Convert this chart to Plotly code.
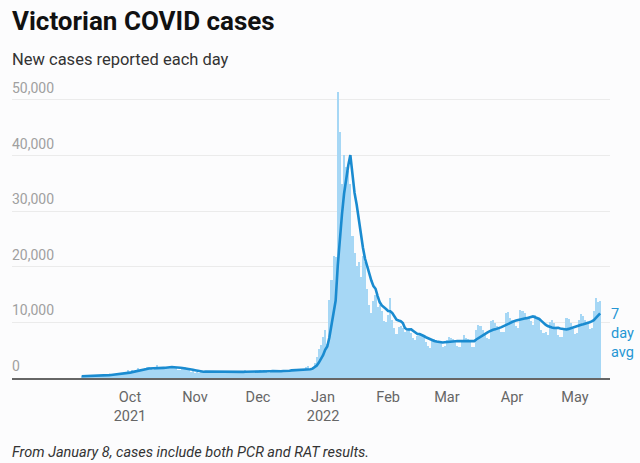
import pandas as pd
import plotly.graph_objects as go

# ---- data: daily new cases, 8 Sep 2021 - 13 May 2022 ----
start_date = "2021-09-08"
sep_2021 = [324, 334, 450, 392, 473, 473, 445, 423, 514, 510, 535, 507, 567, 603, 628,
            766, 733, 847, 779, 705, 867, 950, 1438]
oct_2021 = [1143, 1488, 1220, 1377, 1763, 1420, 1638, 1838, 1965, 1890, 1612, 1466, 1571,
            2297, 1993, 1838, 1903, 1749, 1841, 2232, 2189, 1750, 1935, 1461, 1510, 1534,
            1923, 1656, 1355, 1069, 1221]
nov_2021 = [989, 1069, 941, 1247, 1343, 1313, 1145, 1126, 1003, 1273, 1290, 1127, 1221,
            1052, 860, 1007, 1179, 1188, 1273, 1029, 1065, 1018, 827, 1254, 1362, 1252,
            1061, 1069, 1185, 935]
dec_2021 = [1179, 1419, 1188, 1417, 1073, 980, 1312, 1232, 1206, 1193, 1365, 1206, 1290,
            1189, 1405, 1510, 1622, 1504, 1290, 1240, 1302, 1245, 1503, 2005, 2095, 1608,
            1999, 2738, 3767, 5137, 5919]
jan_2022 = [7442, 8577, 6104, 14020, 17636, 21997, 21728, 51356, 44155, 34808, 40127,
            37994, 37169, 34836, 25526, 22429, 20180, 20769, 18167, 21966, 20940, 16016,
            13091, 11695, 13755, 14836, 12755, 13087, 12000, 10275, 10053]
feb_2022 = [11300, 14400, 10500, 8900, 7900, 9200, 9300, 9000, 8200, 8500, 9000, 8000,
            7200, 6800, 7600, 8100, 7700, 7400, 6500, 5800, 5400, 6800, 7000, 6900, 6700,
            6300, 5500, 5700]
mar_2022 = [6900, 7400, 7200, 7000, 6600, 5800, 5600, 6600, 7700, 7200, 7000, 6700, 5600,
            5600, 8700, 9500, 9300, 8600, 8000, 7200, 7000, 10200, 10400, 9800, 9300, 9000,
            8300, 8200, 11600, 11900, 10800]
apr_2022 = [10500, 10200, 9300, 9000, 12200, 12000, 11600, 11000, 10800, 10200, 9600,
            11300, 11000, 10400, 8600, 8000, 8200, 7800, 10000, 10500, 9900, 8900, 7800,
            7400, 7300, 9000, 10800, 10600, 9900, 8800]
may_2022 = [7900, 8000, 10400, 11500, 11200, 10500, 9800, 8800, 9000, 12000, 14300, 13600,
            13900]

month_ticks = ["2021-10-01", "2021-11-01", "2021-12-01", "2022-01-01", "2022-02-01",
               "2022-03-01", "2022-04-01", "2022-05-01"]
month_labels = ["Oct<br>2021", "Nov", "Dec", "Jan<br>2022", "Feb", "Mar", "Apr", "May"]
y_ticks = [0, 10000, 20000, 30000, 40000, 50000]

daily = (sep_2021 + oct_2021 + nov_2021 + dec_2021 + jan_2022 + feb_2022 + mar_2022
         + apr_2022 + may_2022)
dates = pd.date_range(start_date, periods=len(daily), freq="D")
avg7 = pd.Series(daily).rolling(7, min_periods=1).mean()

BAR = "#a6d7f5"
LINE = "#1a8bd0"
FONT = "Roboto"

# plot area: x 12..610 px, y 0 at 378 px, 50,000 at ~99.5 px
Y_MAX = 55000
PLOT_H = (378 - 99.5) * Y_MAX / 50000
TOP = 378 - PLOT_H


def py(px):
    """pixel row -> paper y"""
    return (378 - px) / PLOT_H


fig = go.Figure()
fig.add_trace(go.Bar(x=dates, y=daily, marker=dict(color=BAR, line=dict(width=0)),
                     hoverinfo="skip"))
fig.add_trace(go.Scatter(x=dates, y=avg7, mode="lines",
                         line=dict(color=LINE, width=2.6), hoverinfo="skip"))

fig.update_layout(
    width=640, height=463,
    margin=dict(l=12, r=30, t=TOP, b=463 - 378),
    paper_bgcolor="#fcfcfd", plot_bgcolor="#fcfcfd",
    showlegend=False, bargap=0,
    font=dict(family=FONT, color="#333"),
    title=dict(text="<b>Victorian COVID cases</b>", x=12 / 640, xanchor="left",
               y=1 - 20.5 / 463, yanchor="middle",
               font=dict(family=FONT, size=26, color="#111")),
)
fig.update_xaxes(
    range=["2021-08-05 19:00", "2022-05-17 17:00"],
    tickvals=month_ticks, ticktext=month_labels,
    tickfont=dict(family=FONT, size=14.5, color="#666"),
    ticklabelstandoff=5,
    showgrid=False, showline=True, linecolor="#666", linewidth=2,
    ticks="", zeroline=False,
)
fig.update_yaxes(
    range=[0, Y_MAX], tickvals=y_ticks,
    tickformat=",d",
    ticklabelposition="inside top",
    ticklabelstandoff=-3, ticklabelshift=-2,
    tickfont=dict(family=FONT, size=14, color="#a0a0a0"),
    showgrid=True, gridcolor="#ebebeb", gridwidth=1,
    zeroline=False, showline=False, ticks="",
)

fig.add_annotation(text="New cases reported each day", xref="paper", yref="paper",
                   x=0, xshift=-2, y=py(59), xanchor="left", yanchor="middle",
                   showarrow=False, font=dict(family=FONT, size=16.5, color="#333"))
fig.add_annotation(text="<i>From January 8, cases include both PCR and RAT results.</i>",
                   xref="paper", yref="paper", x=0, xshift=-2, y=py(453),
                   xanchor="left", yanchor="middle", showarrow=False,
                   font=dict(family=FONT, size=14.5, color="#333"))
fig.add_annotation(text="7<br>day<br>avg", xref="paper", yref="paper",
                   x=1, xshift=-1, y=py(333), xanchor="left", yanchor="middle",
                   align="left", showarrow=False,
                   font=dict(family=FONT, size=14.5, color="#2596d4"))

fig.write_html("out.html", config={"displayModeBar": False},
               post_script="document.body.style.margin='0';")
